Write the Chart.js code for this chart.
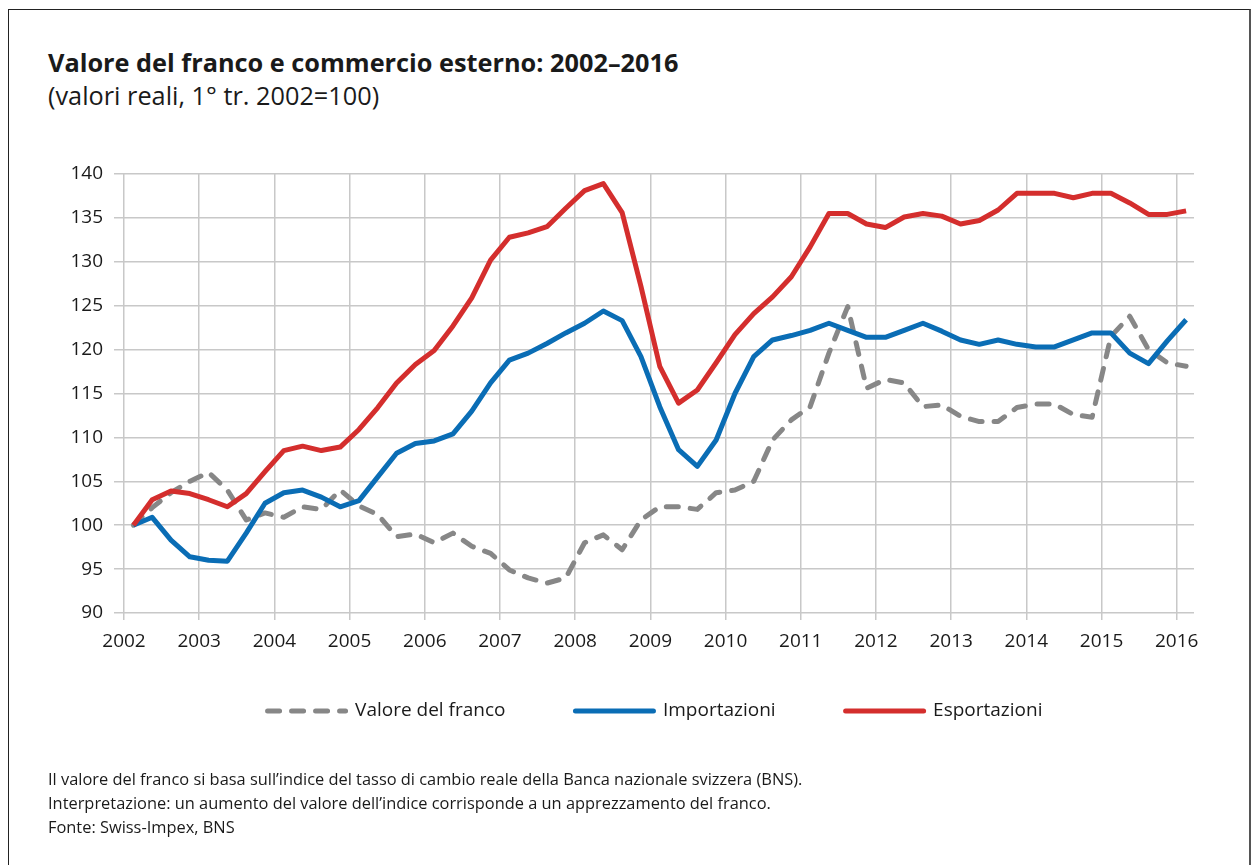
<!DOCTYPE html>
<html>
<head>
<meta charset="utf-8">
<script src="https://cdn.jsdelivr.net/npm/chart.js@4"></script>
<style>
  body { margin: 0; background: #fff; font-family: "Open Sans", sans-serif; color: #1a1a1a; }
  #wrap { position: relative; width: 1254px; height: 865px; overflow: hidden; }
  #frame { position: absolute; left: 8px; top: 9px; width: 1240px; height: 900px;
           border-left: 1px solid #222; border-top: 1px solid #222; border-right: 2px solid #555; }
  #title { position: absolute; left: 48px; top: 45px; font-size: 25.3px; font-weight: 700; }
  #subtitle { position: absolute; left: 48px; top: 78px; font-size: 25.3px; }
  #notes { position: absolute; left: 48px; top: 767px; font-size: 16.4px; line-height: 24px; }
  canvas { position: absolute; left: 0; top: 0; }
</style>
</head>
<body>
<div id="wrap">
  <div id="frame"></div>
  <div id="title">Valore del franco e commercio esterno: 2002–2016</div>
  <div id="subtitle">(valori reali, 1° tr. 2002=100)</div>
  <canvas id="tradeChart" width="1254" height="865"></canvas>
  <div id="notes">
    Il valore del franco si basa sull’indice del tasso di cambio reale della Banca nazionale svizzera (BNS).<br>
    Interpretazione: un aumento del valore dell’indice corrisponde a un apprezzamento del franco.<br>
    Fonte: Swiss-Impex, BNS
  </div>
</div>
<script>
// quarterly data, 1st quarter 2002 to 1st quarter 2016
const firstYear = 2002;
const yearTicks = [2002, 2003, 2004, 2005, 2006, 2007, 2008, 2009, 2010, 2011, 2012, 2013, 2014, 2015, 2016];
const valueTicks = [90, 95, 100, 105, 110, 115, 120, 125, 130, 135, 140];

const franco = [100, 102.0, 103.7, 105.0, 106.0, 104.0, 100.6, 101.4, 100.9, 102.1, 101.8, 104.0,
    102.2, 101.2, 98.7, 99.0, 98.0, 99.1, 97.6, 96.8, 94.9, 94.0, 93.4, 94.0,
    98.0, 98.9, 97.2, 100.6, 102.1, 102.1, 101.8, 103.7, 104.0, 105.0, 109.7, 112.0,
    113.5, 119.6, 124.9, 115.6, 116.6, 116.2, 113.5, 113.7, 112.4, 111.8, 111.8, 113.4,
    113.8, 113.8, 112.6, 112.3, 121.5, 123.8, 120.0, 118.5, 118.1];
const importazioni = [100, 100.9, 98.3, 96.4, 96.0, 95.9, 99.1, 102.5, 103.7, 104.0, 103.2, 102.1,
    102.8, 105.5, 108.2, 109.3, 109.6, 110.4, 113.0, 116.2, 118.8, 119.6, 120.7, 121.9,
    123.0, 124.4, 123.3, 119.2, 113.5, 108.6, 106.7, 109.7, 115.0, 119.2, 121.1, 121.6,
    122.2, 123.0, 122.2, 121.4, 121.4, 122.2, 123.0, 122.1, 121.1, 120.6, 121.1, 120.6,
    120.3, 120.3, 121.1, 121.9, 121.9, 119.6, 118.4, 121.0, 123.4];
const esportazioni = [100, 102.9, 103.9, 103.6, 102.9, 102.1, 103.6, 106.1, 108.5, 109.0, 108.5, 108.9,
    110.9, 113.4, 116.2, 118.3, 119.9, 122.7, 125.9, 130.2, 132.8, 133.3, 134.0, 136.1,
    138.1, 138.9, 135.6, 127.2, 118.1, 113.9, 115.4, 118.5, 121.7, 124.1, 126.0, 128.3,
    131.7, 135.5, 135.5, 134.3, 133.9, 135.1, 135.5, 135.2, 134.3, 134.7, 135.9, 137.8,
    137.8, 137.8, 137.3, 137.8, 137.8, 136.7, 135.4, 135.4, 135.8];

// each quarter sits in the middle of its quarter on the time axis
function toPoints(values) {
    return values.map((v, i) => ({ x: firstYear + (i + 0.5) / 4, y: v }));
}

const gridColor = '#c8c8c8';
const tickFont = { family: 'Open Sans', size: 19 };

// nudge the legend to where it sits in the original
const legendShift = {
    id: 'legendShift',
    afterLayout(chart) {
        chart.legend.left += 58;
        chart.legend.right += 58;
        chart.legend.top -= 28.5;
        chart.legend.bottom -= 28.5;
    }
};

const tradeCtx = document.getElementById('tradeChart').getContext('2d');
const tradeChart = new Chart(tradeCtx, {
    type: 'line',
    data: {
        datasets: [{
            label: 'Valore del franco',
            data: toPoints(franco),
            borderColor: '#878787',
            borderWidth: 5,
            borderDash: [12, 12],
            borderCapStyle: 'round',
            order: 3
        }, {
            label: 'Importazioni',
            data: toPoints(importazioni),
            borderColor: '#0a6db5',
            borderWidth: 5,
            order: 2
        }, {
            label: 'Esportazioni',
            data: toPoints(esportazioni),
            borderColor: '#d42e2d',
            borderWidth: 5,
            order: 1
        }]
    },
    options: {
        responsive: false,
        animation: false,
        layout: {
            padding: { top: 174, right: 60, bottom: 106, left: 0 }
        },
        elements: {
            point: { radius: 0 },
            line: { tension: 0, borderJoinStyle: 'round', fill: false }
        },
        plugins: {
            tooltip: { enabled: false },
            legend: {
                position: 'bottom',
                labels: {
                    color: '#1a1a1a',
                    font: { family: 'Open Sans', size: 19 },
                    usePointStyle: true,
                    pointStyleWidth: 78,
                    padding: 70,
                    generateLabels(chart) {
                        return chart.data.datasets.map((ds, i) => ({
                            text: ds.label,
                            datasetIndex: i,
                            pointStyle: 'line',
                            strokeStyle: ds.borderColor,
                            fillStyle: ds.borderColor,
                            lineWidth: 5,
                            lineDash: ds.borderDash || [],
                            lineCap: 'round',
                            fontColor: '#1a1a1a'
                        }));
                    }
                }
            }
        },
        scales: {
            x: {
                type: 'linear',
                min: 2002,
                max: 2016.23,
                afterBuildTicks(scale) {
                    scale.ticks = yearTicks.map(v => ({ value: v }));
                },
                afterFit(scale) {
                    scale.height = 47;
                },
                ticks: {
                    callback: v => String(v),
                    color: '#1a1a1a',
                    font: tickFont,
                    padding: 10,
                    maxRotation: 0,
                    autoSkip: false
                },
                grid: { color: gridColor, lineWidth: 1.5, tickLength: 7 },
                border: { display: false }
            },
            y: {
                min: 90,
                max: 140,
                afterBuildTicks(scale) {
                    scale.ticks = valueTicks.map(v => ({ value: v }));
                },
                afterFit(scale) {
                    scale.width = 124;
                },
                ticks: {
                    color: '#1a1a1a',
                    font: tickFont,
                    padding: 11
                },
                grid: { color: gridColor, lineWidth: 1.5, tickLength: 10 },
                border: { display: false }
            }
        }
    },
    plugins: [legendShift]
});
</script>
</body>
</html>
